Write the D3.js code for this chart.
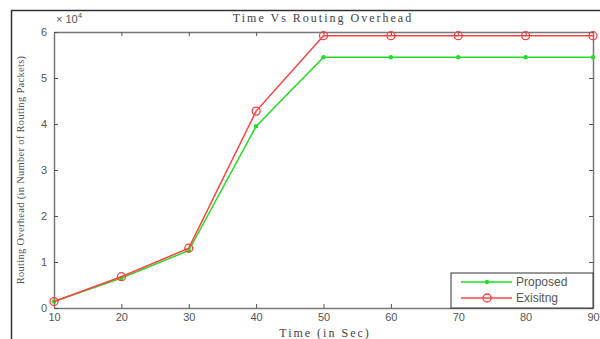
<!DOCTYPE html>
<html>
<head>
<meta charset="utf-8">
<script src="https://cdn.jsdelivr.net/npm/d3@7"></script>
<style>
  body { margin: 0; background: #fff; }
  svg { display: block; }
</style>
</head>
<body>
<div id="chart"></div>
<script>
// time in sec
const times = [10, 20, 30, 40, 50, 60, 70, 80, 90];
// routing overhead, in units of 10^4 packets
const proposed = [0.14, 0.65, 1.25, 3.95, 5.45, 5.45, 5.45, 5.45, 5.45];
const existing = [0.14, 0.68, 1.30, 4.28, 5.92, 5.92, 5.92, 5.92, 5.92];
const xTicks = [10, 20, 30, 40, 50, 60, 70, 80, 90];
const yTicks = [0, 1, 2, 3, 4, 5, 6];

const width = 600, height = 339;
const margin = { top: 32, right: 7, bottom: 31, left: 54 };

const svg = d3.select("#chart").append("svg")
    .attr("width", width)
    .attr("height", height);

// outer frame of the figure
svg.append("rect")
    .attr("x", 11.5).attr("y", 10.5)
    .attr("width", width).attr("height", height)
    .attr("fill", "none")
    .attr("stroke", "#333")
    .attr("stroke-width", 1.5);

const x = d3.scaleLinear().domain([10, 90]).range([margin.left, width - margin.right]);
const y = d3.scaleLinear().domain([0, 6]).range([height - margin.bottom, margin.top]);

const axisColor = "#777";
const tickFont = "Liberation Sans, Arial, sans-serif";
const serif = "Liberation Serif, Times New Roman, serif";

// axes: ticks point inward, box on all sides
let gx = svg.append("g")
    .attr("transform", `translate(0,${y(0)})`)
    .call(d3.axisBottom(x).tickValues(xTicks).tickSizeInner(-4).tickSizeOuter(0).tickPadding(5));
let gxTop = svg.append("g")
    .attr("transform", `translate(0,${y(6)})`)
    .call(d3.axisTop(x).tickValues(xTicks).tickSizeInner(-4).tickSizeOuter(0).tickFormat(""));
let gy = svg.append("g")
    .attr("transform", `translate(${x(10)},0)`)
    .call(d3.axisLeft(y).tickValues(yTicks).tickFormat(d3.format("d")).tickSizeInner(-4).tickSizeOuter(0).tickPadding(7));
let gyRight = svg.append("g")
    .attr("transform", `translate(${x(90)},0)`)
    .call(d3.axisRight(y).tickValues(yTicks).tickSizeInner(-4).tickSizeOuter(0).tickFormat(""));

[gx, gxTop, gy, gyRight].forEach(g => {
    g.select(".domain").attr("stroke", axisColor).attr("stroke-width", 1.5);
    g.selectAll(".tick line").attr("stroke", "#555");
    g.selectAll("text").attr("fill", "#555").style("font-family", tickFont).style("font-size", "11px");
});

// exponent label
const expo = svg.append("text")
    .attr("x", margin.left + 2).attr("y", 23)
    .attr("fill", "#555")
    .style("font-family", tickFont).style("font-size", "11px");
expo.append("tspan").text("× 10");
expo.append("tspan").attr("dy", -5).style("font-size", "8px").text("4");

// title
svg.append("text")
    .attr("x", 323).attr("y", 22)
    .attr("text-anchor", "middle")
    .attr("fill", "#444")
    .style("font-family", serif)
    .style("font-size", "12px")
    .style("letter-spacing", "2px")
    .text("Time Vs Routing Overhead");

// axis labels
svg.append("text")
    .attr("x", 325).attr("y", 337)
    .attr("text-anchor", "middle")
    .attr("fill", "#444")
    .style("font-family", serif)
    .style("font-size", "12px")
    .style("letter-spacing", "2px")
    .text("Time (in Sec)");

svg.append("text")
    .attr("transform", `translate(24,${(y(0) + y(6)) / 2}) rotate(-90)`)
    .attr("text-anchor", "middle")
    .attr("fill", "#555")
    .style("font-family", serif)
    .style("font-size", "10.5px")
    .style("letter-spacing", "0.3px")
    .text("Routing Overhead (in Number of Routing Packets)");

const line = d3.line()
    .x((d, i) => x(times[i]))
    .y(d => y(d));

const green = "#22dd22", red = "#ff4040";

svg.append("path").datum(proposed)
    .attr("fill", "none").attr("stroke", green).attr("stroke-width", 1.5)
    .attr("d", line);
svg.selectAll(".pt-prop").data(proposed).enter().append("circle")
    .attr("class", "pt-prop")
    .attr("cx", (d, i) => x(times[i])).attr("cy", d => y(d))
    .attr("r", 2.2).attr("fill", green);

svg.append("path").datum(existing)
    .attr("fill", "none").attr("stroke", red).attr("stroke-width", 1.5)
    .attr("d", line);
svg.selectAll(".pt-exist").data(existing).enter().append("circle")
    .attr("class", "pt-exist")
    .attr("cx", (d, i) => x(times[i])).attr("cy", d => y(d))
    .attr("r", 4).attr("fill", "none").attr("stroke", red).attr("stroke-width", 1.3);

// legend
const legend = svg.append("g").attr("transform", "translate(451,273)");
legend.append("rect")
    .attr("width", 142).attr("height", 35)
    .attr("fill", "#fff").attr("stroke", "#333").attr("stroke-width", 1);
const items = [{ name: "Proposed", color: green, marker: "dot" }, { name: "Exisitng", color: red, marker: "ring" }];
items.forEach((it, i) => {
    let ly = 9 + i * 16;
    legend.append("line")
        .attr("x1", 10).attr("x2", 61).attr("y1", ly).attr("y2", ly)
        .attr("stroke", it.color).attr("stroke-width", 1.5);
    if (it.marker == "dot") {
        legend.append("circle").attr("cx", 36).attr("cy", ly).attr("r", 2.2).attr("fill", it.color);
    } else {
        legend.append("circle").attr("cx", 36).attr("cy", ly).attr("r", 4)
            .attr("fill", "none").attr("stroke", it.color).attr("stroke-width", 1.3);
    }
    legend.append("text")
        .attr("x", 65).attr("y", ly + 4)
        .attr("fill", "#555")
        .style("font-family", tickFont).style("font-size", "12px")
        .text(it.name);
});
</script>
</body>
</html>
